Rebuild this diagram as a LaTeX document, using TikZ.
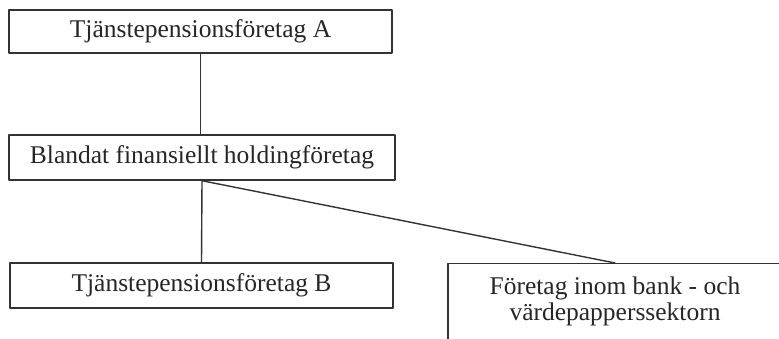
\documentclass[tikz,border=0pt]{standalone}
\usepackage{fontspec}
\setmainfont{Liberation Serif}
\usepackage{tikz}

\begin{document}
\begin{tikzpicture}[line cap=round,line join=round,x=1pt,y=-1pt,
    firma/.style={draw=black!80,line width=1.4pt,rectangle,inner sep=0pt,
      font=\fontsize{25.5}{26}\selectfont,text=black!85},
    link/.style={draw=black!80,line width=1.4pt}]
            \useasboundingbox (0,0) rectangle (779,339);
            \clip (0,0) rectangle (779,339);
            \node[firma,minimum width=383pt,minimum height=43pt] (tpa) at (200.5,31.5) {Tjänstepensionsföretag A};
            \node[firma,minimum width=386pt,minimum height=45pt] (hold) at (202,157.5) {Blandat finansiellt holdingföretag};
            \node[firma,minimum width=383pt,minimum height=45pt] (tpb) at (201.5,285.5) {Tjänstepensionsföretag B};
            \node[firma,minimum width=334pt,minimum height=84pt,align=center,anchor=north,text depth=15pt] (bank) at (615,263) {Företag inom bank - och\\värdepapperssektorn};
            \draw [link] (tpa.south)-- (hold.north -| tpa.south);
            \draw [link] (hold.south)-- (tpb.north);
            \draw [link] (hold.south)-- (bank.north);
            \end{tikzpicture}
\end{document}
